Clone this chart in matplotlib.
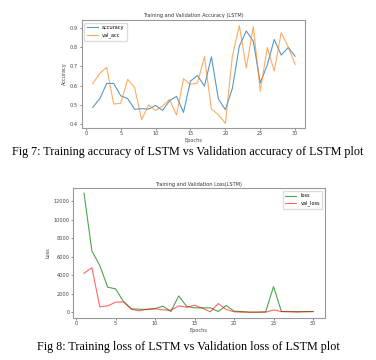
import numpy as np
import matplotlib.pyplot as plt

epochs = np.arange(1, 31)

accuracy = [0.488, 0.533, 0.612, 0.612, 0.548, 0.533, 0.478, 0.481, 0.479, 0.498,
            0.472, 0.522, 0.545, 0.462, 0.624, 0.653, 0.598, 0.750, 0.531, 0.476,
            0.586, 0.805, 0.884, 0.831, 0.615, 0.707, 0.840, 0.759, 0.798, 0.753]
val_acc = [0.610, 0.665, 0.695, 0.505, 0.509, 0.633, 0.591, 0.424, 0.500, 0.472,
           0.495, 0.529, 0.448, 0.636, 0.607, 0.614, 0.750, 0.479, 0.450, 0.405,
           0.753, 0.912, 0.691, 0.907, 0.572, 0.798, 0.676, 0.876, 0.802, 0.710]

loss = [12826, 6611, 5030, 2695, 2515, 1150, 360, 320, 290, 395,
        650, 70, 1760, 610, 470, 470, 470, 70, 720, 110,
        70, 0, 0, 40, 2770, 70, 70, 70, 70, 70]
val_loss = [4200, 4810, 575, 680, 1080, 1110, 320, 140, 320, 360,
            250, 215, 680, 540, 750, 430, 40, 930, 290, 40,
            0, 0, 0, 0, 250, 70, 40, 0, 40, 70]

captions = ["Fig 7: Training accuracy of LSTM vs Validation accuracy of LSTM plot",
            "Fig 8: Training loss of LSTM vs Validation loss of LSTM plot"]

small = 3.6
fig = plt.figure(figsize=(3.76, 3.6), dpi=100)


def style(ax):
    for s in ax.spines.values():
        s.set_color('#999999')
        s.set_linewidth(0.8)
    ax.tick_params(labelsize=small, length=1.5, width=0.5, pad=1,
                   colors='#555555', labelcolor='#444444')


# accuracy plot
ax1 = fig.add_axes([0.217, 0.645, 0.594, 0.299])
ax1.plot(epochs, accuracy, color='#1f77b4', alpha=0.75, lw=0.8, label='accuracy')
ax1.plot(epochs, val_acc, color='#ff7f0e', alpha=0.65, lw=0.8, label='val_acc')
ax1.set_title('Training and Validation Accuracy (LSTM)', fontsize=small, pad=2, color='#333333')
ax1.set_xlabel('Epochs', fontsize=small, labelpad=1, color='#444444')
ax1.set_ylabel('Accuracy', fontsize=small, labelpad=2, color='#444444')
ax1.set_xticks([0, 5, 10, 15, 20, 25, 30])
ax1.set_yticks([0.4, 0.5, 0.6, 0.7, 0.8, 0.9])
ax1.set_ylim(0.382, 0.94)
ax1.set_xlim(-0.6, 31.4)
ax1.legend(loc='upper left', fontsize=small, handlelength=2.2, borderpad=0.5,
           labelspacing=0.5, framealpha=1, edgecolor='#dddddd')
style(ax1)

# loss plot
ax2 = fig.add_axes([0.194, 0.117, 0.670, 0.360])
ax2.plot(epochs, loss, color='green', alpha=0.7, lw=0.8, label='loss')
ax2.plot(epochs, val_loss, color='red', alpha=0.6, lw=0.8, label='val_loss')
ax2.set_title('Training and Validation Loss(LSTM)', fontsize=small, pad=2, color='#333333')
ax2.set_xlabel('Epochs', fontsize=small, labelpad=1.5, color='#444444')
ax2.set_ylabel('Loss', fontsize=small, labelpad=2, color='#444444')
ax2.set_xticks([0, 5, 10, 15, 20, 25, 30])
ax2.set_yticks([0, 2000, 4000, 6000, 8000, 10000, 12000])
ax2.set_xlim(-0.4, 31.5)
ax2.set_ylim(-615, 13370)
ax2.legend(loc='upper right', fontsize=small, handlelength=2.2, borderpad=0.5,
           labelspacing=0.5, framealpha=1, edgecolor='#dddddd')
style(ax2)

fig.text(0.5, 1 - 152/360, captions[0], ha='center', va='center',
         family='Liberation Serif', fontsize=8.7)
fig.text(0.5, 1 - 347/360, captions[1], ha='center', va='center',
         family='Liberation Serif', fontsize=8.7)

fig.savefig('out.png', dpi=100, facecolor='white')
